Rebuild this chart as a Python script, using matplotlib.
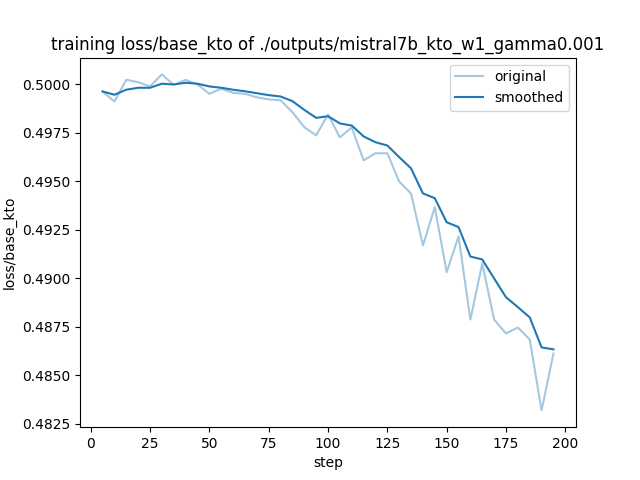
import matplotlib
matplotlib.use("Agg")
import matplotlib.pyplot as plt

steps = list(range(5, 200, 5))
original = [0.49964, 0.49912, 0.50024, 0.50012, 0.49990, 0.50052, 0.49998, 0.50024,
            0.50000, 0.49952, 0.49978, 0.49957, 0.49952, 0.49934, 0.49923, 0.49919,
            0.49857, 0.49780, 0.49737, 0.49845, 0.49727, 0.49778, 0.49608, 0.49645,
            0.49645, 0.49499, 0.49437, 0.49169, 0.49367, 0.49031, 0.49216, 0.48787,
            0.49076, 0.48787, 0.48715, 0.48746, 0.48684, 0.48318, 0.48612]
smoothed = [0.49964, 0.49947, 0.49973, 0.49983, 0.49983, 0.50004, 0.50000, 0.50009,
            0.50004, 0.49990, 0.49983, 0.49973, 0.49965, 0.49955, 0.49945, 0.49938,
            0.49914, 0.49869, 0.49828, 0.49836, 0.49799, 0.49788, 0.49732, 0.49702,
            0.49685, 0.49625, 0.49567, 0.49438, 0.49413, 0.49289, 0.49264, 0.49112,
            0.49097, 0.48999, 0.48902, 0.48851, 0.48798, 0.48643, 0.48633]

fig, ax = plt.subplots(figsize=(6.4, 4.8), dpi=100)
ax.plot(steps, original, color="#1f77b4", alpha=0.4, label="original")
ax.plot(steps, smoothed, color="#1f77b4", label="smoothed")
ax.set_title("training loss/base_kto of ./outputs/mistral7b_kto_w1_gamma0.001")
ax.set_xlabel("step")
ax.set_ylabel("loss/base_kto")
ax.legend(loc="upper right")
fig.savefig("out.png")
